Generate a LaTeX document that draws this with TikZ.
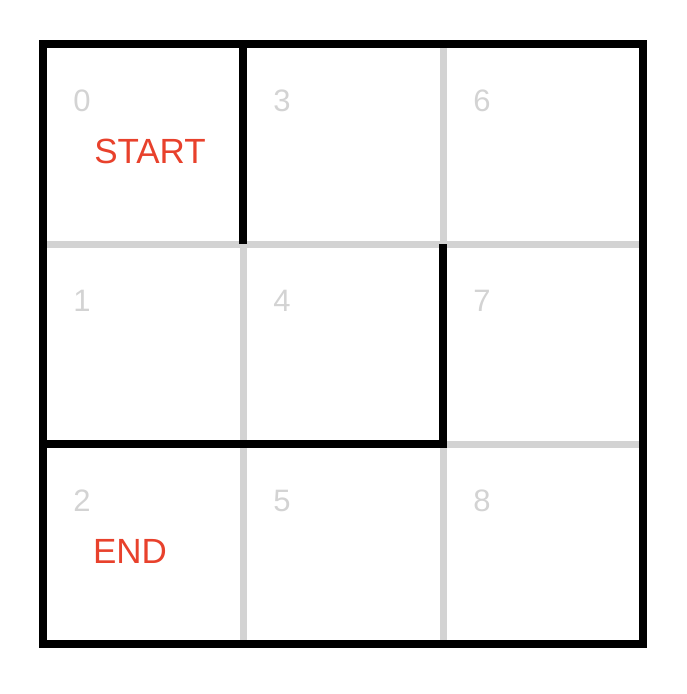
\documentclass[tikz,border=0pt]{standalone}
\usepackage{fontspec}
\setmainfont{Liberation Sans}
\definecolor{gridgray}{HTML}{D3D3D3}
\definecolor{numgray}{HTML}{D3D3D3}
\definecolor{labred}{HTML}{E8412C}
\begin{document}
\begin{tikzpicture}[x=1pt,y=-1pt,
  gridline/.style={gridgray,line width=7pt},
  wall/.style={black,line width=7.5pt,line cap=square},
  num/.style={numgray,font=\fontsize{31}{31}\selectfont,inner sep=0pt},
  lab/.style={labred,font=\fontsize{35}{35}\selectfont,inner sep=0pt}]
\useasboundingbox (0,0) rectangle (686,694);
% grid
\draw[gridline] (243,44) -- (243,644);
\draw[gridline] (443,44) -- (443,644);
\draw[gridline] (43,244) -- (643,244);
\draw[gridline] (43,444) -- (643,444);
% walls
\draw[wall] (243,44) -- (243,244);
\draw[wall] (443,244) -- (443,444) -- (43,444);
\draw[black,line width=8.5pt,line cap=square] (43,44) rectangle (643,644);
% numbers
\node[num] (n0) at (82,101) {0};
\node[num] (n1) at (82,301) {1};
\node[num] (n2) at (82,501) {2};
\node[num] (n3) at (282,101) {3};
\node[num] (n4) at (282,301) {4};
\node[num] (n5) at (282,501) {5};
\node[num] (n6) at (482,101) {6};
\node[num] (n7) at (482,301) {7};
\node[num] (n8) at (482,501) {8};
% labels
\node[lab] (start) at (150,151) {START};
\node[lab] (end) at (130,551) {END};
\end{tikzpicture}
\end{document}
